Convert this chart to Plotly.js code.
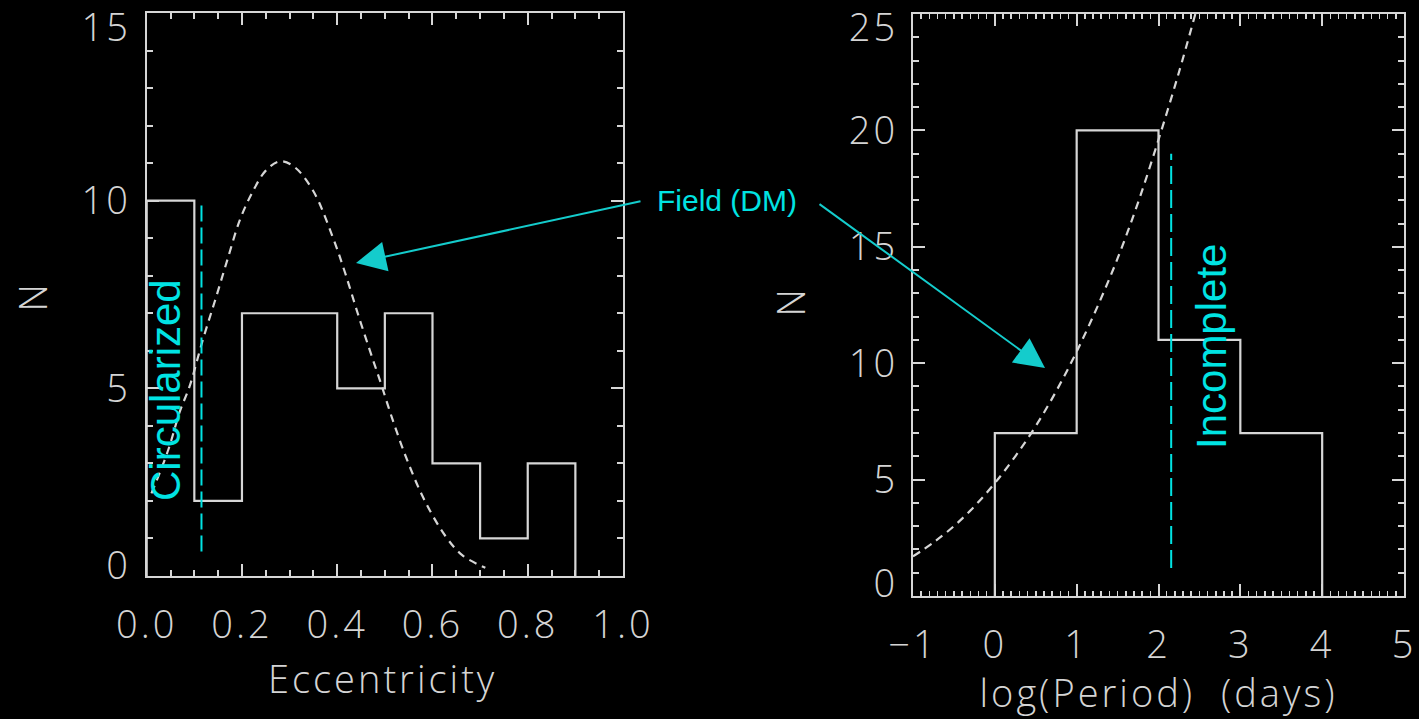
<!DOCTYPE html>
<html>
<head>
<meta charset="utf-8">
<script src="https://cdn.plot.ly/plotly-3.0.1.min.js"></script>
<style>
  html, body { margin: 0; padding: 0; background: #000; }
  #chart { width: 1419px; height: 719px; }
  /* wide, airy lettering for the axis numbers */
  #chart .xtick text, #chart .ytick text, #chart .x2tick text, #chart .y2tick text { letter-spacing: 3px; }
</style>
</head>
<body>
<div id="chart"></div>
<script>
// Eccentricity histogram (bin edges and counts)
const eccEdges = [0.0, 0.1, 0.2, 0.3, 0.4, 0.5, 0.6, 0.7, 0.8, 0.9];
const eccCounts = [10, 2, 7, 7, 5, 7, 3, 1, 3];

// Field (DM) eccentricity distribution, scaled
const eccFieldX = [0.01, 0.045, 0.07, 0.09, 0.118, 0.145, 0.17, 0.196, 0.223, 0.25, 0.28, 0.31, 0.35, 0.39, 0.416, 0.443, 0.474, 0.49, 0.518, 0.548, 0.584, 0.628, 0.663, 0.711];
const eccFieldY = [2.2, 3.35, 4.4, 5.05, 6.3, 7.4, 8.45, 9.5, 10.25, 10.8, 11.05, 10.9, 10.25, 9.05, 8.1, 7.0, 5.8, 5.2, 4.1, 3.05, 2.0, 1.05, 0.55, 0.22];

// Circularization cut-off marker
const circCutX = [0.115, 0.115];
const circCutY = [0.65, 9.9];

// log(Period) histogram
const periodEdges = [0, 1, 2, 3, 4];
const periodCounts = [7, 20, 11, 7];

// Field (DM) period distribution, scaled
const periodFieldX = [-1.0, -0.75, -0.5, -0.25, 0.0, 0.25, 0.5, 0.75, 1.0, 1.25, 1.5, 1.75, 2.0, 2.25, 2.45];
const periodFieldY = [1.7, 2.3, 3.0, 3.85, 4.85, 6.0, 7.3, 8.8, 10.5, 12.4, 14.5, 16.9, 19.6, 22.5, 25.0];

// Completeness limit marker
const incompleteX = [2.155, 2.155];
const incompleteY = [1.2, 19];

// Axis tick labels
const eccTickVals = [0, 0.2, 0.4, 0.6, 0.8, 1.0];
const eccTickText = ['0.0', '0.2', '0.4', '0.6', '0.8', '1.0'];
const periodTickVals = [-1, 0, 1, 2, 3, 4, 5];

// Axis titles
const axisTitles = ['N', 'Eccentricity', 'log(Period)  (days)'];

// Build a closed step outline from edges + counts
function stepOutline(edges, counts) {
  const x = [edges[0]].concat(edges);
  const y = [0].concat(counts, [0]);
  return { x: x, y: y };
}

const eccStep = stepOutline(eccEdges, eccCounts);
const perStep = stepOutline(periodEdges, periodCounts);

const W = 1419, H = 719;
const px = v => v / W;
const py = v => 1 - v / H;

const GREY = '#d6d6d6';
const CYAN = '#00e3e3';
const ARROW = '#14cccc';
const tickFont = { family: 'Open Sans', size: 38, weight: 300, color: '#d4d4d4' };
const titleFont = { family: 'Open Sans', size: 38, weight: 300, color: '#d4d4d4' };

const traces = [
  { x: eccStep.x, y: eccStep.y, xaxis: 'x', yaxis: 'y', mode: 'lines',
    line: { shape: 'hv', color: GREY, width: 2.2 }, hoverinfo: 'skip', showlegend: false },
  { x: eccFieldX, y: eccFieldY, xaxis: 'x', yaxis: 'y', mode: 'lines',
    line: { color: GREY, width: 2.2, dash: '8px,6px', shape: 'spline', smoothing: 1 }, hoverinfo: 'skip', showlegend: false },
  { x: circCutX, y: circCutY, xaxis: 'x', yaxis: 'y', mode: 'lines',
    line: { color: CYAN, width: 2, dash: '16px,6px' }, hoverinfo: 'skip', showlegend: false },

  { x: perStep.x, y: perStep.y, xaxis: 'x2', yaxis: 'y2', mode: 'lines',
    line: { shape: 'hv', color: GREY, width: 2.2 }, hoverinfo: 'skip', showlegend: false },
  { x: periodFieldX, y: periodFieldY, xaxis: 'x2', yaxis: 'y2', mode: 'lines',
    line: { color: GREY, width: 2.2, dash: '8px,6px', shape: 'spline', smoothing: 1 }, hoverinfo: 'skip', showlegend: false },
  { x: incompleteX, y: incompleteY, xaxis: 'x2', yaxis: 'y2', mode: 'lines',
    line: { color: CYAN, width: 2, dash: '18px,6px' }, hoverinfo: 'skip', showlegend: false }
];

function frameAxis(extra) {
  return Object.assign({
    showgrid: false, zeroline: false,
    showline: true, linecolor: GREY, linewidth: 2.2, mirror: 'allticks',
    ticks: 'inside', ticklen: 12, tickwidth: 2, tickcolor: GREY,
    tickfont: tickFont, ticklabeloverflow: 'allow', fixedrange: true
  }, extra);
}

const layout = {
  width: W, height: H,
  paper_bgcolor: '#000', plot_bgcolor: '#000',
  margin: { l: 0, r: 0, t: 0, b: 0 },
  showlegend: false,
  xaxis: frameAxis({
    domain: [px(146.7), px(623)], range: [0, 1], anchor: 'y',
    tickmode: 'array', tickvals: eccTickVals, ticktext: eccTickText,
    ticklabelstandoff: 14,
    minor: { dtick: 0.05, ticks: 'inside', ticklen: 6, tickwidth: 2, tickcolor: GREY }
  }),
  yaxis: frameAxis({
    domain: [py(576), py(13)], range: [0, 15], anchor: 'x',
    dtick: 5, ticklabelstandoff: 6,
    minor: { dtick: 1, ticks: 'inside', ticklen: 6, tickwidth: 2, tickcolor: GREY }
  }),
  xaxis2: frameAxis({
    domain: [px(913), px(1404)], range: [-1, 5], anchor: 'y2',
    tickmode: 'array', tickvals: periodTickVals,
    ticklabelstandoff: 14,
    minor: { dtick: 0.1, ticks: 'inside', ticklen: 5, tickwidth: 1.5, tickcolor: GREY }
  }),
  yaxis2: frameAxis({
    domain: [py(596), py(14)], range: [0, 25], anchor: 'x2',
    dtick: 5, ticklabelstandoff: 5,
    minor: { dtick: 1, ticks: 'inside', ticklen: 6, tickwidth: 2, tickcolor: GREY }
  }),
  annotations: [
    // axis titles
    { xref: 'paper', yref: 'paper', x: px(32), y: py(297), text: axisTitles[0], textangle: -90,
      showarrow: false, xanchor: 'center', yanchor: 'middle', font: titleFont },
    { xref: 'paper', yref: 'paper', x: px(383), y: py(678), text: axisTitles[1],
      showarrow: false, xanchor: 'center', yanchor: 'middle', font: titleFont },
    { xref: 'paper', yref: 'paper', x: px(790), y: py(302), text: axisTitles[0], textangle: -90,
      showarrow: false, xanchor: 'center', yanchor: 'middle', font: titleFont },
    { xref: 'paper', yref: 'paper', x: px(1158), y: py(692), text: axisTitles[2],
      showarrow: false, xanchor: 'center', yanchor: 'middle', font: titleFont },

    // in-plot labels
    { xref: 'paper', yref: 'paper', x: px(166), y: py(390), text: 'Circularized', textangle: -90,
      showarrow: false, xanchor: 'center', yanchor: 'middle',
      font: { family: 'Liberation Sans', size: 42, color: CYAN } },
    { xref: 'paper', yref: 'paper', x: px(1211), y: py(347), text: 'Incomplete', textangle: -90,
      showarrow: false, xanchor: 'center', yanchor: 'middle',
      font: { family: 'Liberation Sans', size: 42, color: CYAN } },

    // Field (DM) callout with two arrows
    { xref: 'paper', yref: 'paper', x: px(727), y: py(201), text: 'Field (DM)',
      showarrow: false, xanchor: 'center', yanchor: 'middle',
      font: { family: 'Liberation Sans', size: 30, color: CYAN } },
    { xref: 'paper', yref: 'paper', x: px(356), y: py(263), text: '',
      showarrow: true, arrowhead: 2, arrowsize: 3, arrowwidth: 2, arrowcolor: ARROW,
      ax: 286, ay: -62, standoff: 0 },
    { xref: 'paper', yref: 'paper', x: px(1045), y: py(368), text: '',
      showarrow: true, arrowhead: 2, arrowsize: 3, arrowwidth: 2, arrowcolor: ARROW,
      ax: -227, ay: -165, standoff: 0 }
  ]
};

// Nudge the end labels of each y axis inward so they sit inside the frame height
function nudgeEndLabels(sel, topLabel, topShift, bottomShift) {
  document.querySelectorAll(sel).forEach(t => {
    const label = t.textContent.trim();
    let dy = 0;
    if (label === topLabel) dy = topShift;
    else if (label === '0') dy = bottomShift;
    if (dy) {
      const tr = t.getAttribute('transform') || '';
      t.setAttribute('transform', tr + ' translate(0,' + dy + ')');
    }
  });
}

Plotly.newPlot('chart', traces, layout, { staticPlot: true, displayModeBar: false }).then(() => {
  nudgeEndLabels('#chart .ytick text', '15', 15, -10);
  nudgeEndLabels('#chart .y2tick text', '25', 14, -12);
  document.querySelectorAll('#chart .annotation-text').forEach(t => {
    if (axisTitles.indexOf(t.textContent) !== -1) t.style.letterSpacing = '3px';
  });
});
</script>
</body>
</html>
